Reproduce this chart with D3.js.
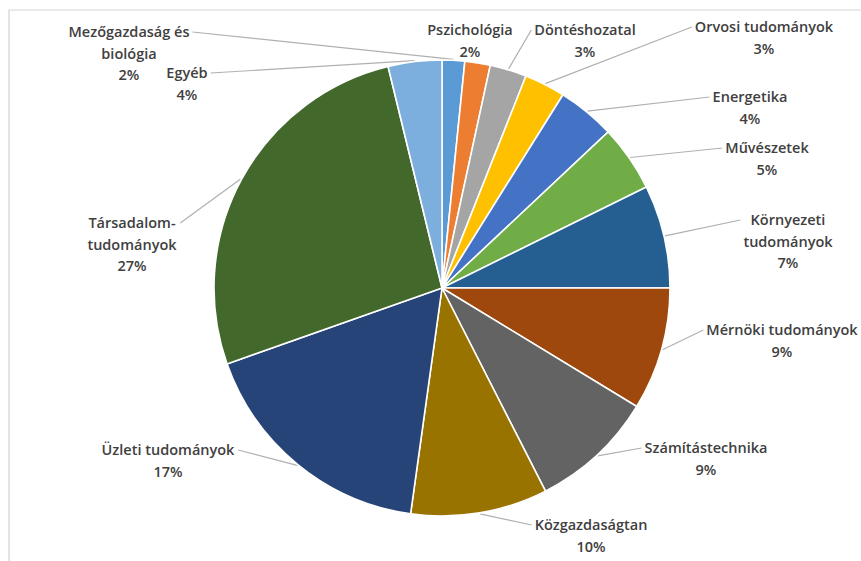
<!DOCTYPE html>
<html>
<head>
<meta charset="utf-8">
<script src="https://cdn.jsdelivr.net/npm/d3@7"></script>
<style>
  html, body { margin: 0; padding: 0; background: #fff; }
  svg { display: block; }
</style>
</head>
<body>
<svg id="chart" width="861" height="561"></svg>
<script>
// ---- data ----
const categories = [
  ["Mezőgazdaság és", "biológia"],
  ["Pszichológia"],
  ["Döntéshozatal"],
  ["Orvosi tudományok"],
  ["Energetika"],
  ["Művészetek"],
  ["Környezeti", "tudományok"],
  ["Mérnöki tudományok"],
  ["Számítástechnika"],
  ["Közgazdaságtan"],
  ["Üzleti tudományok"],
  ["Társadalom-", "tudományok"],
  ["Egyéb"]
];
const values = [1.6, 1.8, 2.6, 2.9, 4.1, 4.7, 7.3, 8.7, 8.8, 9.7, 17.4, 26.6, 3.8];
const percentLabels = ["2%", "2%", "3%", "3%", "4%", "5%", "7%", "9%", "9%", "10%", "17%", "27%", "4%"];

// ---- style / layout ----
const colors = ["#5B9BD5", "#ED7D31", "#A5A5A5", "#FFC000", "#4472C4", "#70AD47",
                "#255E91", "#9E480E", "#636363", "#997300", "#264478", "#43682B", "#7CAFDD"];
const labelLayout = [
  [129, 32], [470, 30], [585, 30], [764, 27], [750, 97], [767, 148],
  [788, 220], [782, 330], [706, 448], [591, 525], [168, 450], [132, 223], [187, 73]
];
const cx = 442, cy = 288, R = 228, lineH = 21.5;

const svg = d3.select("#chart");

// faint chart-area border (top and left edges visible)
svg.append("line").attr("x1", 9).attr("y1", 10).attr("x2", 861).attr("y2", 10)
  .attr("stroke", "#e3e3e3").attr("stroke-width", 1.5);
svg.append("line").attr("x1", 9).attr("y1", 10).attr("x2", 9).attr("y2", 561)
  .attr("stroke", "#e3e3e3").attr("stroke-width", 2);

const pie = d3.pie().sort(null).value(d => d)(values);
const arc = d3.arc().innerRadius(0).outerRadius(R);

const g = svg.append("g").attr("transform", `translate(${cx},${cy})`);
g.selectAll("path").data(pie).join("path")
  .attr("d", arc)
  .attr("fill", (d, i) => colors[i])
  .attr("stroke", "#fff")
  .attr("stroke-width", 1.6)
  .attr("stroke-linejoin", "round");

// labels
const lg = svg.append("g");
const leaders = svg.insert("g", ":nth-child(3)");
pie.forEach((d, i) => {
  const [lx, ly] = labelLayout[i];
  const lines = categories[i].concat([percentLabels[i]]);
  const t = lg.append("text")
    .attr("text-anchor", "middle")
    .attr("font-family", "'Open Sans', 'Noto Sans', sans-serif")
    .attr("font-size", 14.5)
    .attr("font-weight", 600)
    .attr("fill", "#404040");
  lines.forEach((s, k) => {
    t.append("tspan").attr("x", lx).attr("y", ly + k * lineH).attr("dy", "0.35em").text(s);
  });
  const bb = t.node().getBBox();
  const mid = (d.startAngle + d.endAngle) / 2;
  const ax = cx + (R + 1) * Math.sin(mid);
  const ay = cy - (R + 1) * Math.cos(mid);
  let sx = null, sy = ly;
  if (ax < bb.x - 2) sx = bb.x - 3;
  else if (ax > bb.x + bb.width + 2) sx = bb.x + bb.width + 3;
  else if (ay - (bb.y + bb.height) > 12) { sx = ax; sy = bb.y + bb.height + 2; }
  if (sx !== null) {
    leaders.append("line")
      .attr("x1", sx).attr("y1", sy).attr("x2", ax).attr("y2", ay)
      .attr("stroke", "#b0b0b0").attr("stroke-width", 1.2);
  }
});
</script>
</body>
</html>
